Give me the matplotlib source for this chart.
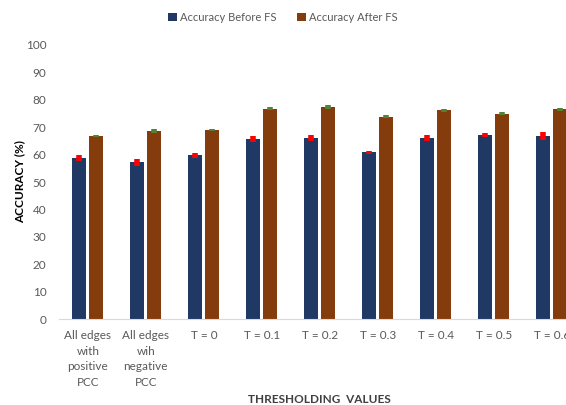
import matplotlib.pyplot as plt
import numpy as np

categories = ["All edges\nwith\npositive\nPCC", "All edges\nwih\nnegative\nPCC",
              "T = 0", "T = 0.1", "T = 0.2", "T = 0.3", "T = 0.4", "T = 0.5", "T = 0.6"]
acc_before = [58.8, 57.2, 59.7, 65.7, 66.1, 60.8, 66.1, 67.2, 66.8]
acc_after = [66.9, 68.6, 69.1, 76.8, 77.3, 73.8, 76.2, 74.9, 76.5]
err_before = [1.2, 1.2, 0.8, 1.0, 1.1, 0.5, 1.2, 0.6, 1.5]
err_after = [0.4, 0.6, 0.4, 0.4, 0.7, 0.5, 0.5, 0.5, 0.5]

plt.rcParams['font.family'] = ['Lato', 'DejaVu Sans']

fig = plt.figure(figsize=(5.66, 4.05), dpi=100)
ax = fig.add_axes([0.104, 0.212, 0.922, 0.677])

x = np.arange(len(categories))
w = 0.24
off = 0.146
ax.bar(x - off, acc_before, w, color="#1F3864", label="Accuracy Before FS", zorder=2)
ax.bar(x + off, acc_after, w, color="#843C0C", label="Accuracy After FS", zorder=2)
ax.errorbar(x - off, acc_before, yerr=err_before, fmt="none", ecolor="#FF0000",
            elinewidth=4, capsize=0, zorder=3)
ax.errorbar(x + off, acc_after, yerr=err_after, fmt="none", ecolor="#548235",
            elinewidth=4, capsize=0, zorder=3)

ax.set_xlim(-0.5, len(categories) - 0.5)
ax.set_ylim(0, 100)
ax.set_yticks(range(0, 101, 10))
ax.set_xticks(x)
ax.set_xticklabels(categories, linespacing=1.5)
ax.tick_params(axis="both", length=0, colors="#595959", labelsize=8.5)
ax.tick_params(axis="x", pad=8)
ax.tick_params(axis="y", pad=9)
for s in ["top", "right", "left"]:
    ax.spines[s].set_visible(False)
ax.spines["bottom"].set_color("#D9D9D9")

ax.set_ylabel("ACCURACY (%)", fontsize=8.5, fontweight="bold", color="black")
ax.yaxis.set_label_coords(-0.064, 0.5)
fig.text(0.565, 0.006, "THRESHOLDING  VALUES", fontsize=8.5, fontweight="bold",
         color="#404040", ha="center")

leg = fig.legend(loc="upper center", bbox_to_anchor=(0.5, 0.995), ncol=2, frameon=False,
                 fontsize=8, handlelength=0.8, handleheight=0.8, handletextpad=0.3,
                 columnspacing=1.8)
for t in leg.get_texts():
    t.set_color("#595959")

fig.savefig("out.png", dpi=100)
